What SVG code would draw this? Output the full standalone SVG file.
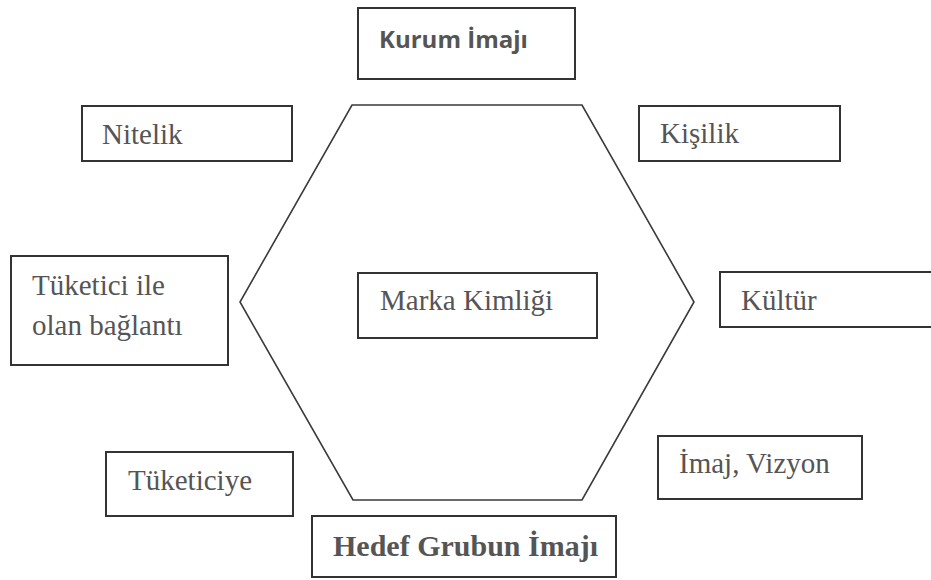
<svg xmlns="http://www.w3.org/2000/svg" width="931" height="580" viewBox="0 0 931 580">
  <style>
    .box { fill: #ffffff; stroke: #333333; stroke-width: 2; }
    .hex { fill: none; stroke: #3a3a3a; stroke-width: 1.6; stroke-linejoin: miter; }
    .lbl { font-family: "Liberation Serif", "Times New Roman", serif; font-size: 29px; fill: #555555; }
    .lbl-b { font-family: "Liberation Serif", "Times New Roman", serif; font-size: 30px; font-weight: bold; fill: #555555; }
    .lbl-s { font-family: "Open Sans", "Liberation Sans", sans-serif; font-size: 24px; font-weight: bold; fill: #555555; }
  </style>
  <rect width="931" height="580" fill="#ffffff"/>

  <g id="connectors">
    <polygon class="hex" points="352,105 582,105 694,302 582,500 353,500 240,302"/>
  </g>

  <g id="kurum-imaji">
    <rect class="box" x="358" y="8" width="217" height="71"/>
    <text class="lbl-s" x="379" y="48">Kurum İmajı</text>
  </g>

  <g id="nitelik">
    <rect class="box" x="82" y="106" width="210" height="55"/>
    <text class="lbl" x="102" y="144">Nitelik</text>
  </g>

  <g id="kisilik">
    <rect class="box" x="639" y="106" width="201" height="55"/>
    <text class="lbl" x="660" y="143">Kişilik</text>
  </g>

  <g id="tuketici-baglanti">
    <rect class="box" x="11" y="256" width="217" height="109"/>
    <text class="lbl" x="32" y="295">Tüketici ile</text>
    <text class="lbl" x="32" y="335">olan bağlantı</text>
  </g>

  <g id="marka-kimligi">
    <rect class="box" x="358" y="273" width="239" height="65"/>
    <text class="lbl" x="380" y="310">Marka Kimliği</text>
  </g>

  <g id="kultur">
    <rect class="box" x="720" y="272" width="230" height="55"/>
    <text class="lbl" x="741" y="310">Kültür</text>
  </g>

  <g id="tuketiciye">
    <rect class="box" x="106" y="452" width="187" height="64"/>
    <text class="lbl" x="128" y="490">Tüketiciye</text>
  </g>

  <g id="imaj-vizyon">
    <rect class="box" x="658" y="436" width="204" height="63"/>
    <text class="lbl" x="679" y="473">İmaj, Vizyon</text>
  </g>

  <g id="hedef-grubun-imaji">
    <rect class="box" x="312" y="516" width="304" height="61"/>
    <text class="lbl-b" x="333" y="556">Hedef Grubun İmajı</text>
  </g>
</svg>
